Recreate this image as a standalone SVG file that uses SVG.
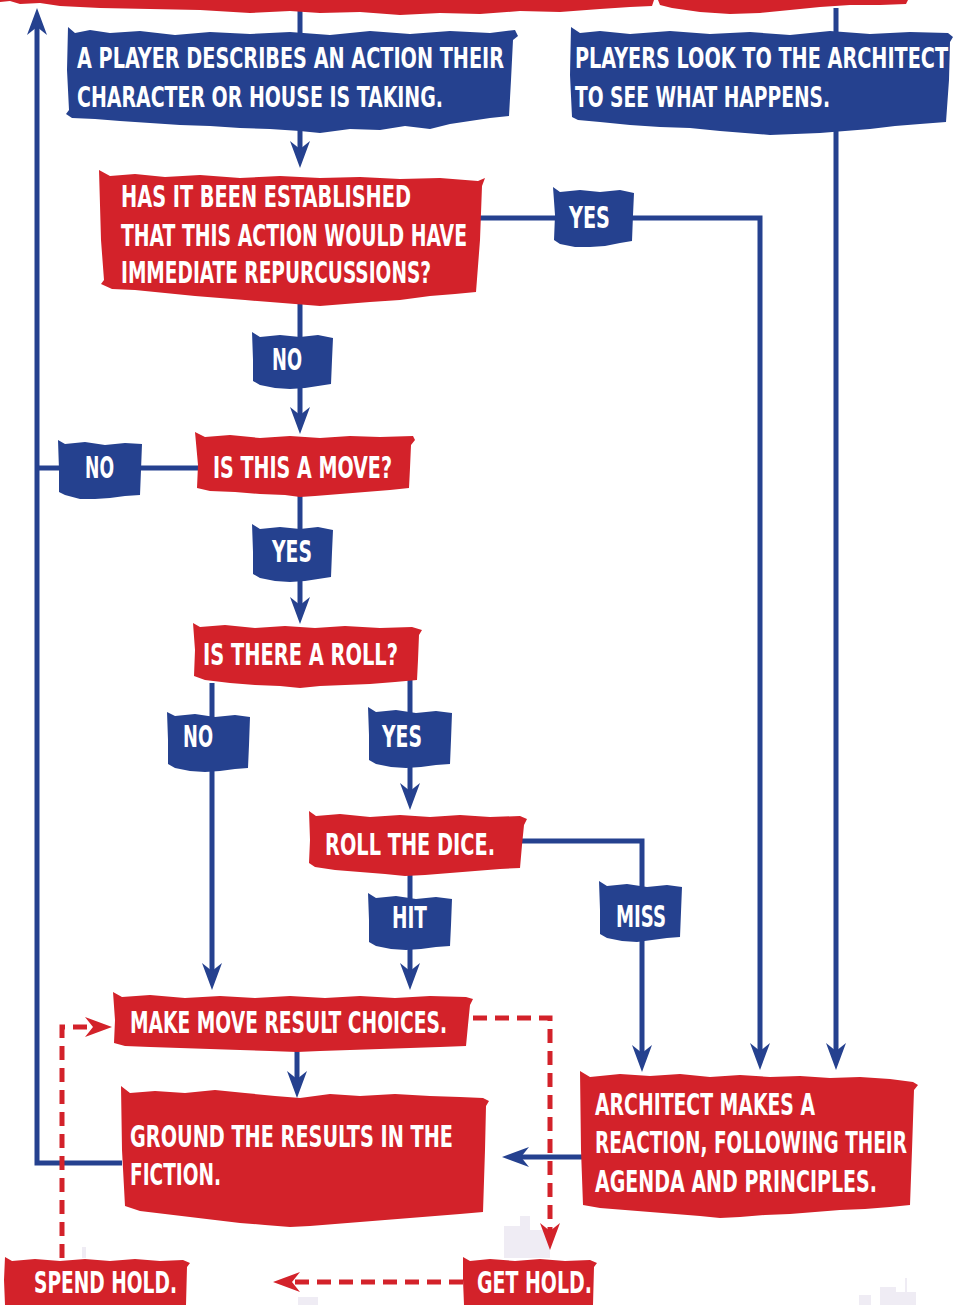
<svg xmlns="http://www.w3.org/2000/svg" width="957" height="1305" viewBox="0 0 957 1305">
<defs>
<style>
.red{fill:#d3222a}
.blue{fill:#25418f}
.t{font-family:"DejaVu Sans Condensed","DejaVu Sans",sans-serif;font-weight:bold;fill:#ffffff;font-size:31px}
.ts{font-size:28px}
.bl{fill:none;stroke:#25418f;stroke-width:5}
.rd{fill:none;stroke:#d3222a;stroke-width:5;stroke-dasharray:14 8}
.bg{fill:#efecf4}
</style>
<marker id="ab" markerUnits="userSpaceOnUse" markerWidth="28" markerHeight="22" viewBox="0 0 28 22" refX="15" refY="11" orient="auto">
<path d="M0,1 L27,11 L0,21 L8,11 Z" fill="#25418f"/>
</marker>
<marker id="ar" markerUnits="userSpaceOnUse" markerWidth="28" markerHeight="22" viewBox="0 0 28 22" refX="15" refY="11" orient="auto">
<path d="M0,1 L27,11 L0,21 L8,11 Z" fill="#d3222a"/>
</marker>
</defs>
<rect width="957" height="1305" fill="#ffffff"/>
<g id="background">
<rect class="bg" x="504" y="1226" width="16" height="32"/>
<rect class="bg" x="520" y="1216" width="10" height="42"/>
<rect class="bg" x="530" y="1230" width="20" height="28"/>
<rect class="bg" x="82" y="1247" width="4" height="11"/>
<rect class="bg" x="298" y="1297" width="20" height="8"/>
<rect class="bg" x="859" y="1295" width="12" height="10"/>
<rect class="bg" x="880" y="1287" width="16" height="18"/>
<rect class="bg" x="896" y="1292" width="20" height="13"/>
<rect class="bg" x="905" y="1278" width="2" height="27"/>
</g>
<g id="connectors">
<path class="bl" d="M300,8 V40"/>
<path class="bl" d="M836,8 V1058" marker-end="url(#ab)"/>
<path class="bl" d="M122,1163 H37 V20" marker-end="url(#ab)"/>
<path class="bl" d="M300,120 V156" marker-end="url(#ab)"/>
<path class="bl" d="M480,218 H760 V1058" marker-end="url(#ab)"/>
<path class="bl" d="M300,290 V422" marker-end="url(#ab)"/>
<path class="bl" d="M200,468 H37"/>
<path class="bl" d="M300,490 V612" marker-end="url(#ab)"/>
<path class="bl" d="M212,683 V978" marker-end="url(#ab)"/>
<path class="bl" d="M410,680 V798" marker-end="url(#ab)"/>
<path class="bl" d="M522,841 H642 V1060" marker-end="url(#ab)"/>
<path class="bl" d="M410,870 V978" marker-end="url(#ab)"/>
<path class="bl" d="M297,1045 V1086" marker-end="url(#ab)"/>
<path class="bl" d="M582,1157 H514" marker-end="url(#ab)"/>
<path class="rd" d="M473,1018 H550 V1238" marker-end="url(#ar)"/>
<path class="rd" d="M463,1282 H285" marker-end="url(#ar)"/>
<path class="rd" d="M62,1258 V1027 H100" marker-end="url(#ar)"/>
</g>
<g id="top-red-1"><path class="red" d="M0,0 H654 L652,6 L630,7 L600,9 L560,12 L520,11 L480,14 L440,13 L400,15 L360,12 L320,13 L290,11 L250,13 L200,10 L150,9 L100,8 L60,6 L40,3 L20,4 L10,1 L0,2 Z"/></g>
<g id="top-red-2"><path class="red" d="M658,0 H908 L906,4 L880,5 L850,5 L820,7 L790,10 L760,13 L730,14 L700,12 L672,8 L660,5 Z"/></g>
<g id="player-describes">
<path class="blue" d="M68,27 L75,33 L90,30 L110,33 L140,31 L175,35 L210,32 L250,34 L290,32 L330,35 L370,31 L410,34 L450,31 L490,33 L515,30 L518,36 L513,40 L511,80 L509,116 L490,118 L470,121 L450,124 L430,129 L405,126 L380,130 L350,129 L320,133 L300,131 L270,129 L240,128 L210,126 L180,125 L150,123 L120,121 L95,119 L72,118 L66,114 L69,110 L67,70 Z"/>
<text class="t ts" transform="translate(77,68) scale(0.72,1)" textLength="593.1" lengthAdjust="spacingAndGlyphs">A PLAYER DESCRIBES AN ACTION THEIR</text>
<text class="t ts" transform="translate(77,107) scale(0.72,1)" textLength="508.3" lengthAdjust="spacingAndGlyphs">CHARACTER OR HOUSE IS TAKING.</text>
</g>
<g id="players-look">
<path class="blue" d="M571,27 L580,33 L600,31 L630,34 L670,31 L710,34 L750,32 L790,35 L830,31 L870,34 L910,32 L948,33 L953,37 L950,42 L949,80 L946,122 L920,124 L895,126 L870,129 L845,131 L820,133 L795,134 L770,135 L745,133 L720,131 L690,128 L660,127 L630,125 L600,122 L578,120 L572,117 L570,75 Z"/>
<text class="t ts" transform="translate(575,68) scale(0.72,1)" textLength="518.1" lengthAdjust="spacingAndGlyphs">PLAYERS LOOK TO THE ARCHITECT</text>
<text class="t ts" transform="translate(575,107) scale(0.72,1)" textLength="354.2" lengthAdjust="spacingAndGlyphs">TO SEE WHAT HAPPENS.</text>
</g>
<g id="established">
<path class="red" d="M99,170 L110,176 L135,174 L165,177 L200,175 L240,178 L280,176 L320,178 L360,177 L400,179 L440,178 L478,181 L485,178 L482,186 L480,240 L476,292 L455,294 L430,296 L400,300 L370,302 L345,304 L320,306 L295,304 L270,302 L245,300 L220,298 L195,296 L165,293 L135,290 L112,289 L101,284 L104,280 L101,240 Z"/>
<text class="t" transform="translate(121,207) scale(0.72,1)" textLength="402.8" lengthAdjust="spacingAndGlyphs">HAS IT BEEN ESTABLISHED</text>
<text class="t" transform="translate(121,246) scale(0.72,1)" textLength="480.6" lengthAdjust="spacingAndGlyphs">THAT THIS ACTION WOULD HAVE</text>
<text class="t" transform="translate(121,283) scale(0.72,1)" textLength="430.6" lengthAdjust="spacingAndGlyphs">IMMEDIATE REPURCUSSIONS?</text>
</g>
<g id="yes-1">
<path class="blue" d="M553,187 L560,192 L580,190 L600,192 L620,190 L634,193 L633,215 L632,241 L620,243 L605,246 L590,247 L575,247 L560,244 L554,240 L555,215 Z"/>
<text class="t" transform="translate(569,228) scale(0.72,1)" textLength="56.9" lengthAdjust="spacingAndGlyphs">YES</text>
</g>
<g id="no-1">
<path class="blue" d="M252,332 L260,337 L280,335 L300,337 L318,335 L333,338 L332,360 L331,384 L318,386 L305,388 L290,389 L275,388 L260,385 L253,381 L253,360 Z"/>
<text class="t" transform="translate(272,370) scale(0.72,1)" textLength="41.7" lengthAdjust="spacingAndGlyphs">NO</text>
</g>
<g id="is-move">
<path class="red" d="M195,432 L205,437 L230,435 L260,438 L290,436 L320,438 L350,436 L380,437 L413,436 L415,440 L411,445 L410,468 L409,488 L390,490 L365,492 L340,494 L315,496 L300,497 L285,495 L260,494 L235,492 L210,491 L197,488 L198,465 Z"/>
<text class="t" transform="translate(213,478) scale(0.72,1)" textLength="248.6" lengthAdjust="spacingAndGlyphs">IS THIS A MOVE?</text>
</g>
<g id="no-2">
<path class="blue" d="M58,440 L65,444 L85,442 L105,445 L125,443 L142,444 L141,470 L140,495 L125,496 L110,498 L95,499 L80,499 L65,495 L59,492 L59,470 Z"/>
<text class="t" transform="translate(85,478) scale(0.72,1)" textLength="40.3" lengthAdjust="spacingAndGlyphs">NO</text>
</g>
<g id="yes-2">
<path class="blue" d="M252,524 L260,529 L280,527 L300,529 L318,527 L333,530 L332,552 L331,577 L318,579 L305,581 L290,582 L275,581 L260,578 L253,574 L253,552 Z"/>
<text class="t" transform="translate(272,562) scale(0.72,1)" textLength="55.6" lengthAdjust="spacingAndGlyphs">YES</text>
</g>
<g id="is-roll">
<path class="red" d="M193,623 L200,627 L225,625 L255,628 L285,626 L315,628 L345,626 L380,628 L412,627 L422,630 L419,635 L418,660 L417,680 L395,682 L370,684 L345,685 L320,686 L300,688 L280,686 L255,685 L230,683 L205,680 L194,676 L195,650 Z"/>
<text class="t" transform="translate(203,665) scale(0.72,1)" textLength="270.8" lengthAdjust="spacingAndGlyphs">IS THERE A ROLL?</text>
</g>
<g id="no-3">
<path class="blue" d="M167,712 L175,716 L195,714 L215,717 L235,715 L250,717 L249,745 L248,768 L235,769 L220,771 L205,772 L190,771 L175,768 L168,764 L168,740 Z"/>
<text class="t" transform="translate(183,747) scale(0.72,1)" textLength="41.7" lengthAdjust="spacingAndGlyphs">NO</text>
</g>
<g id="yes-3">
<path class="blue" d="M368,707 L376,712 L396,710 L416,713 L436,711 L452,713 L451,740 L450,764 L436,765 L421,767 L406,768 L391,767 L376,764 L369,760 L369,735 Z"/>
<text class="t" transform="translate(382,747) scale(0.72,1)" textLength="55.6" lengthAdjust="spacingAndGlyphs">YES</text>
</g>
<g id="roll-dice">
<path class="red" d="M309,811 L316,816 L340,814 L370,817 L400,815 L430,817 L460,815 L490,817 L520,816 L527,819 L524,825 L522,845 L520,868 L500,869 L475,871 L450,873 L425,875 L405,876 L385,874 L360,872 L335,870 L315,867 L309,863 L310,840 Z"/>
<text class="t" transform="translate(325,855) scale(0.72,1)" textLength="236.1" lengthAdjust="spacingAndGlyphs">ROLL THE DICE.</text>
</g>
<g id="hit">
<path class="blue" d="M368,893 L376,898 L396,896 L416,899 L436,897 L452,899 L451,925 L450,946 L436,947 L421,949 L406,950 L391,949 L376,946 L369,942 L369,920 Z"/>
<text class="t" transform="translate(392,928) scale(0.72,1)" textLength="48.6" lengthAdjust="spacingAndGlyphs">HIT</text>
</g>
<g id="miss">
<path class="blue" d="M599,881 L607,886 L627,884 L647,887 L667,885 L682,887 L681,912 L680,937 L667,938 L652,940 L637,942 L622,941 L607,938 L600,934 L600,910 Z"/>
<text class="t" transform="translate(616,927) scale(0.72,1)" textLength="69.4" lengthAdjust="spacingAndGlyphs">MISS</text>
</g>
<g id="move-result">
<path class="red" d="M113,992 L122,997 L150,995 L185,998 L220,996 L255,998 L290,996 L325,998 L360,996 L395,998 L430,996 L466,997 L473,999 L470,1005 L468,1025 L466,1046 L440,1047 L410,1048 L380,1049 L350,1050 L320,1051 L297,1052 L270,1051 L240,1050 L210,1049 L180,1048 L150,1047 L125,1046 L114,1043 L115,1020 Z"/>
<text class="t" transform="translate(130,1033) scale(0.72,1)" textLength="440.3" lengthAdjust="spacingAndGlyphs">MAKE MOVE RESULT CHOICES.</text>
</g>
<g id="ground">
<path class="red" d="M121,1086 L130,1093 L155,1091 L185,1093 L215,1090 L245,1093 L275,1096 L300,1098 L330,1094 L360,1096 L395,1094 L430,1096 L460,1097 L483,1098 L489,1101 L486,1106 L485,1150 L483,1212 L460,1214 L435,1216 L410,1218 L385,1220 L360,1222 L335,1224 L310,1226 L290,1227 L265,1225 L240,1223 L215,1220 L190,1217 L165,1214 L140,1211 L125,1206 L122,1150 Z"/>
<text class="t" transform="translate(130,1147) scale(0.72,1)" textLength="448.6" lengthAdjust="spacingAndGlyphs">GROUND THE RESULTS IN THE</text>
<text class="t" transform="translate(130,1185) scale(0.72,1)" textLength="126.4" lengthAdjust="spacingAndGlyphs">FICTION.</text>
</g>
<g id="architect">
<path class="red" d="M580,1071 L590,1077 L620,1074 L650,1076 L680,1074 L710,1077 L740,1075 L770,1077 L800,1076 L830,1078 L860,1077 L890,1079 L913,1082 L918,1085 L914,1090 L912,1150 L910,1205 L890,1207 L865,1209 L840,1210 L815,1212 L790,1214 L765,1215 L740,1217 L720,1218 L700,1216 L675,1214 L650,1212 L625,1210 L600,1208 L583,1205 L581,1150 Z"/>
<text class="t" transform="translate(595,1115) scale(0.72,1)" textLength="305.6" lengthAdjust="spacingAndGlyphs">ARCHITECT MAKES A</text>
<text class="t" transform="translate(595,1153) scale(0.72,1)" textLength="433.3" lengthAdjust="spacingAndGlyphs">REACTION, FOLLOWING THEIR</text>
<text class="t" transform="translate(595,1192) scale(0.72,1)" textLength="391.7" lengthAdjust="spacingAndGlyphs">AGENDA AND PRINCIPLES.</text>
</g>
<g id="spend-hold">
<path class="red" d="M5,1257 L12,1261 L35,1259 L60,1261 L85,1259 L110,1261 L135,1259 L160,1261 L183,1260 L190,1263 L187,1267 L186,1305 L5,1305 L4,1280 Z"/>
<text class="t" transform="translate(34,1293) scale(0.72,1)" textLength="198.6" lengthAdjust="spacingAndGlyphs">SPEND HOLD.</text>
</g>
<g id="get-hold">
<path class="red" d="M463,1257 L470,1261 L490,1259 L515,1261 L540,1259 L565,1261 L590,1260 L597,1263 L594,1267 L593,1305 L464,1305 L463,1280 Z"/>
<text class="t" transform="translate(477,1293) scale(0.72,1)" textLength="159.7" lengthAdjust="spacingAndGlyphs">GET HOLD.</text>
</g>
</svg>
